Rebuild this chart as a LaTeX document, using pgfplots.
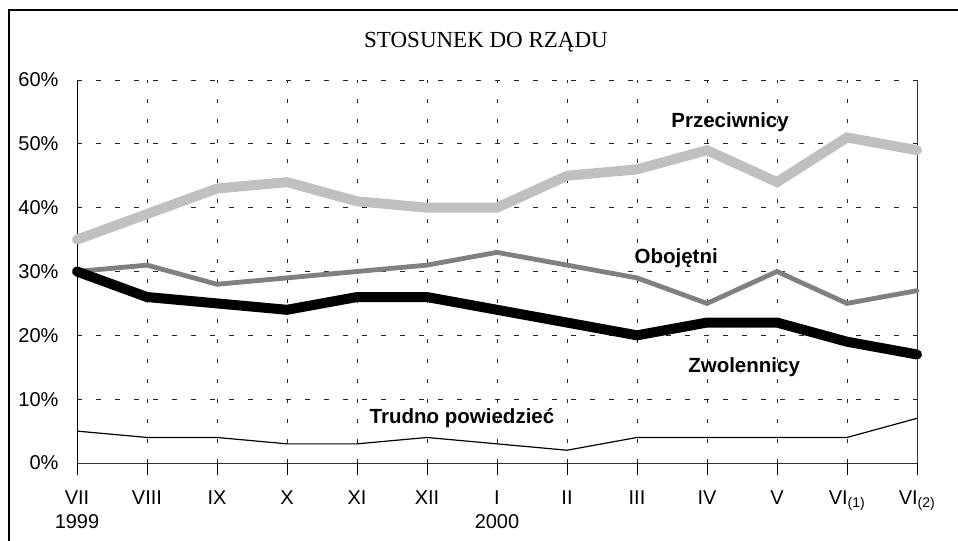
\documentclass[border=0pt]{standalone}
\usepackage{pgfplots}
\pgfplotsset{compat=1.18}
\usepackage{fontspec}
\setmainfont{Liberation Sans}
\newfontfamily\seriffont{Liberation Serif}
\definecolor{przec}{HTML}{C0C0C0}
\definecolor{oboj}{HTML}{808080}
\begin{document}
\begin{tikzpicture}
\useasboundingbox (0bp,0bp) rectangle (958bp,541bp);
\draw[line width=2bp] (9bp,0bp) -- (9bp,531bp) -- (958bp,531bp);
\node[font=\seriffont\fontsize{23bp}{27bp}\selectfont] at (486bp,499bp) {STOSUNEK DO RZĄDU};
\begin{axis}[
  at={(77bp,78bp)}, anchor=south west,
  scale only axis, width=840bp, height=383bp,
  xmin=0, xmax=12, ymin=0, ymax=60,
  axis line style={draw=none},
  xtick={0,...,12},
  xticklabels={{VII\\1999},VIII,IX,X,XI,XII,{I\\2000},II,III,IV,V,VI\textsubscript{(1)},VI\textsubscript{(2)}},
  ytick={0,10,...,60},
  yticklabels={0\%,10\%,20\%,30\%,40\%,50\%,60\%},
  tick pos=left, tick align=outside,
  major tick length=12bp,
  x tick style={black, line width=1bp},
  y tick style={draw=none},
  xticklabel style={font=\fontsize{20bp}{24bp}\selectfont, align=center, anchor=north, yshift=-12bp},
  yticklabel style={font=\fontsize{20bp}{24bp}\selectfont, anchor=east, xshift=-3bp},
  grid=major,
  major x grid style={black!85, line width=0.8bp, dash pattern=on 4bp off 16bp},
  major y grid style={black!85, line width=0.8bp, dash pattern=on 5bp off 14bp},
  clip=false,
]
\draw[black, line width=1bp] (rel axis cs:0,0) -- (rel axis cs:0,1);
\draw[black!80, line width=1bp] (rel axis cs:0,0) -- (rel axis cs:1,0);
\draw[black!80, line width=0.8bp] (rel axis cs:1,0) -- (rel axis cs:1,1);
\addplot[przec, line width=10bp, line cap=round] coordinates {
(0,35) (1,39) (2,43) (3,44) (4,41) (5,40) (6,40) (7,45) (8,46) (9,49) (10,44) (11,51) (12,49)};
\addplot[oboj, line width=4.8bp, line cap=round] coordinates {
(0,30) (1,31) (2,28) (3,29) (4,30) (5,31) (6,33) (7,31) (8,29) (9,25) (10,30) (11,25) (12,27)};
\addplot[black, line width=10bp, line cap=round] coordinates {
(0,30) (1,26) (2,25) (3,24) (4,26) (5,26) (6,24) (7,22) (8,20) (9,22) (10,22) (11,19) (12,17)};
\addplot[black, line width=1.2bp] coordinates {
(0,5) (1,4) (2,4) (3,3) (4,3) (5,4) (6,3) (7,2) (8,4) (9,4) (10,4) (11,4) (12,7)};
\node[font=\bfseries\fontsize{20.5bp}{24bp}\selectfont] at (axis cs:9.33,53.4) {Przeciwnicy};
\node[font=\bfseries\fontsize{20.5bp}{24bp}\selectfont] at (axis cs:8.56,32.1) {Obojętni};
\node[font=\bfseries\fontsize{20.5bp}{24bp}\selectfont] at (axis cs:9.53,15.0) {Zwolennicy};
\node[font=\bfseries\fontsize{20.5bp}{24bp}\selectfont] at (axis cs:5.5,7.05) {Trudno powiedzieć};
\end{axis}
\end{tikzpicture}
\end{document}
